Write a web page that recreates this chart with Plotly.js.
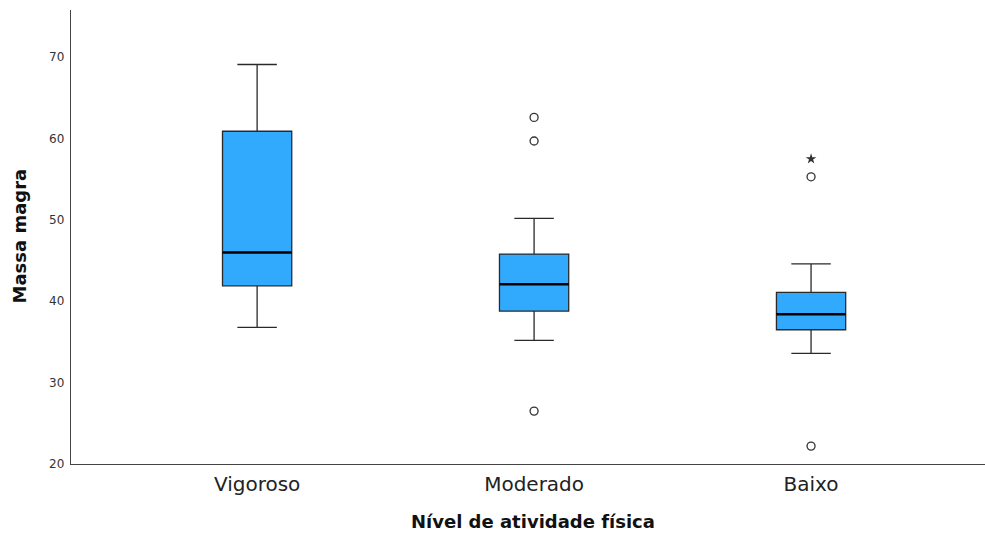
<!DOCTYPE html>
<html><head><meta charset="utf-8">
<script src="https://cdn.plot.ly/plotly-3.0.1.min.js"></script>
<style>html,body{margin:0;padding:0;background:#fff}</style>
</head><body>
<div id="chart" style="width:985px;height:533px"></div>
<script>
const categories = ["Vigoroso", "Moderado", "Baixo"];
const lowerWhisker = [36.8, 35.2, 33.6];
const q1 = [41.9, 38.8, 36.5];
const median = [46.0, 42.1, 38.4];
const q3 = [60.9, 45.8, 41.1];
const upperWhisker = [69.1, 50.2, 44.6];
// outliers (circles): category index and value
const outlierCat = [1, 1, 1, 2, 2];
const outlierVal = [62.6, 59.7, 26.5, 55.3, 22.2];
// extreme values (stars)
const extremeCat = [2];
const extremeVal = [57.5];
const xTitle = 'Nível de atividade física';
const yTitle = 'Massa magra';

const pos = categories.map((c, i) => i);
const boxHalf = 0.125;

const traces = [{
  type: 'box',
  x: pos,
  q1: q1, median: median, q3: q3,
  lowerfence: lowerWhisker, upperfence: upperWhisker,
  width: 0.25,
  whiskerwidth: 0.57,
  fillcolor: '#31A9FD',
  line: {color: '#2a2a2a', width: 1.3},
  boxpoints: false,
  hoverinfo: 'skip',
  showlegend: false
}];

const mx = [], my = [];
median.forEach((m, i) => { mx.push(pos[i] - boxHalf, pos[i] + boxHalf, null); my.push(m, m, null); });
traces.push({type: 'scatter', mode: 'lines', x: mx, y: my, line: {color: '#000', width: 2.6}, showlegend: false, hoverinfo: 'skip'});

traces.push({type: 'scatter', mode: 'markers', x: outlierCat, y: outlierVal,
  marker: {symbol: 'circle-open', size: 8, color: '#333', line: {width: 1.3, color: '#333'}}, showlegend: false, hoverinfo: 'skip'});
traces.push({type: 'scatter', mode: 'markers', x: extremeCat, y: extremeVal,
  marker: {symbol: 'star', size: 8, color: '#333', line: {width: 0}}, showlegend: false, hoverinfo: 'skip'});

const layout = {
  width: 985, height: 533,
  margin: {l: 71, r: 0, t: 10, b: 69},
  paper_bgcolor: '#fff', plot_bgcolor: '#fff',
  font: {family: 'DejaVu Sans, Open Sans, sans-serif', color: '#222'},
  xaxis: {
    range: [-0.672, 2.628],
    tickvals: pos, ticktext: categories,
    showgrid: false, zeroline: false,
    showline: true, linecolor: '#444', linewidth: 1.3,
    ticks: '', ticklabelstandoff: 2, tickfont: {size: 20, color: '#222'},
    automargin: false
  },
  yaxis: {
    range: [20, 75.8],
    tickvals: [20, 30, 40, 50, 60, 70],
    showgrid: false, zeroline: false,
    showline: true, linecolor: '#444', linewidth: 1.3,
    ticks: '', ticklabelstandoff: 3, tickfont: {size: 12, color: '#333'},
    automargin: false
  },
  annotations: [
    {text: '<b>' + xTitle + '</b>', xref: 'paper', yref: 'paper', x: 0.506, y: -0.126, xanchor: 'center', yanchor: 'middle',
     showarrow: false, font: {size: 18, color: '#111'}},
    {text: '<b>' + yTitle + '</b>', xref: 'paper', yref: 'paper', x: -0.0565, y: 0.502, xanchor: 'center', yanchor: 'middle',
     textangle: -90, showarrow: false, font: {size: 18, color: '#111'}}
  ]
};
Plotly.newPlot('chart', traces, layout, {staticPlot: true});
</script>
</body></html>
